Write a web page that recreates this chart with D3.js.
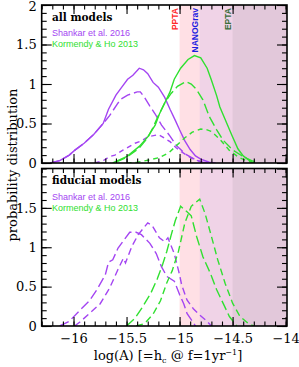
<!DOCTYPE html>
<html><head><meta charset="utf-8">
<script src="https://cdn.jsdelivr.net/npm/d3@7"></script>
<style>body{margin:0;background:#fff}svg{display:block}</style>
</head><body>
<svg id="c" width="299" height="367"></svg>
<script>
// ---------- data ----------
const xTickLabels = [-16, -15.5, -15, -14.5, -14];
const yTickLabelsTop = [0, 0.5, 1, 1.5, 2];
const yTickLabelsBottom = [0, 0.5, 1, 1.5];
const panelTitles = ["all models", "fiducial models"];
const legendNames = ["Shankar et al. 2016", "Kormendy & Ho 2013"];
const ptaNames = ["PPTA", "NANOGrav", "EPTA"];
const ptaLimits = [-15.0, -14.81, -14.5];

// top panel (all models)
const allShankarSolidX = [-16.22,-16.13,-16.04,-15.99,-15.90,-15.81,-15.72,-15.67,-15.60,-15.55,-15.49,-15.44,-15.38,-15.34,-15.30,-15.25,-15.20,-15.14,-15.09,-15.04,-15.00,-14.95,-14.90,-14.85,-14.80,-14.72,-14.66];
const allShankarSolidY = [0.00,0.03,0.10,0.16,0.25,0.36,0.50,0.68,0.86,0.95,1.06,1.11,1.20,1.18,1.13,1.02,0.96,0.83,0.68,0.54,0.42,0.28,0.17,0.09,0.05,0.01,0.00];
const allShankarLongX = [-16.22,-16.13,-16.04,-15.99,-15.90,-15.81,-15.72,-15.66,-15.58,-15.55,-15.49,-15.40,-15.37,-15.33,-15.28,-15.23,-15.17,-15.09,-15.03,-14.94,-14.85,-14.78,-14.72];
const allShankarLongY = [0.00,0.03,0.10,0.16,0.25,0.36,0.50,0.60,0.76,0.81,0.86,0.90,0.90,0.83,0.72,0.62,0.48,0.34,0.22,0.11,0.04,0.01,0.00];
const allShankarShortX = [-15.80,-15.72,-15.66,-15.61,-15.53,-15.42,-15.36,-15.30,-15.20,-15.15,-15.09,-15.03,-14.98,-14.90,-14.83,-14.77];
const allShankarShortY = [0.00,0.03,0.08,0.10,0.165,0.25,0.28,0.33,0.36,0.32,0.27,0.19,0.14,0.07,0.03,0.00];
const allKormendySolidX = [-15.63,-15.50,-15.38,-15.30,-15.23,-15.19,-15.14,-15.09,-15.05,-14.99,-14.92,-14.86,-14.80,-14.74,-14.70,-14.65,-14.62,-14.57,-14.51,-14.45,-14.40,-14.34,-14.30];
const allKormendySolidY = [0.00,0.08,0.21,0.33,0.48,0.62,0.76,0.90,1.06,1.20,1.31,1.36,1.33,1.20,1.05,0.85,0.71,0.55,0.36,0.18,0.09,0.03,0.00];
const allKormendyLongX = [-15.60,-15.50,-15.38,-15.30,-15.25,-15.20,-15.14,-15.08,-15.02,-14.94,-14.89,-14.84,-14.78,-14.72,-14.65,-14.59,-14.50,-14.40,-14.32,-14.25];
const allKormendyLongY = [0.01,0.07,0.19,0.32,0.45,0.60,0.76,0.88,0.97,1.03,1.00,0.93,0.80,0.59,0.42,0.29,0.165,0.08,0.03,0.00];
const allKormendyShortX = [-15.50,-15.40,-15.28,-15.19,-15.10,-15.03,-14.95,-14.88,-14.80,-14.74,-14.70,-14.62,-14.53,-14.44,-14.35,-14.30];
const allKormendyShortY = [0.00,0.01,0.04,0.07,0.13,0.22,0.32,0.39,0.43,0.42,0.40,0.30,0.16,0.07,0.02,0.00];

// bottom panel (fiducial models)
const fidShankarLongX = [-16.13,-16.04,-15.94,-15.85,-15.78,-15.70,-15.67,-15.63,-15.58,-15.53,-15.47,-15.41,-15.36,-15.28,-15.22,-15.17,-15.12,-15.05,-15.00,-14.96,-14.93,-14.89,-14.85];
const fidShankarLongY = [0.00,0.06,0.20,0.32,0.46,0.65,0.81,0.84,0.99,1.08,1.19,1.19,1.16,1.05,0.92,0.75,0.63,0.57,0.40,0.28,0.16,0.08,0.00];
const fidShankarShortX = [-15.99,-15.94,-15.85,-15.75,-15.66,-15.58,-15.53,-15.51,-15.45,-15.39,-15.30,-15.26,-15.19,-15.14,-15.11,-15.05,-15.00,-14.98,-14.93,-14.87,-14.81,-14.75,-14.70];
const fidShankarShortY = [0.00,0.05,0.16,0.28,0.48,0.72,0.86,0.80,1.01,1.16,1.31,1.28,1.12,1.07,1.12,0.92,0.65,0.52,0.33,0.22,0.14,0.07,0.00];
const fidKormendyLongX = [-15.50,-15.42,-15.35,-15.27,-15.21,-15.16,-15.12,-15.08,-15.04,-14.99,-14.93,-14.89,-14.84,-14.78,-14.71,-14.65,-14.59,-14.53,-14.46];
const fidKormendyLongY = [0.00,0.10,0.24,0.42,0.60,0.78,0.95,1.15,1.34,1.52,1.45,1.40,1.14,0.88,0.67,0.46,0.29,0.12,0.00];
const fidKormendyShortX = [-15.41,-15.33,-15.25,-15.18,-15.12,-15.07,-15.01,-14.95,-14.89,-14.81,-14.76,-14.70,-14.64,-14.57,-14.50,-14.43,-14.35,-14.30];
const fidKormendyShortY = [0.00,0.03,0.15,0.32,0.55,0.70,0.95,1.31,1.52,1.61,1.43,1.14,0.84,0.54,0.29,0.12,0.03,0.00];

// ---------- styles / layout ----------
const PURPLE = "#a445f2", GREEN = "#30e030";
const ptaColors = ["#ff2a2a", "#1f1fe0", "#3a6e3a"];
const ptaFills = [["#ffe0e5", 1], ["#5a5aff", 0.09], ["#707070", 0.10]];
const L = 41.7, R = 287;
const panels = [
  {top: 5, bottom: 163, yTicks: yTickLabelsTop, title: panelTitles[0],
   curves: [
     [allShankarSolidX, allShankarSolidY, PURPLE, null],
     [allShankarLongX, allShankarLongY, PURPLE, "10,4"],
     [allShankarShortX, allShankarShortY, PURPLE, "5,4"],
     [allKormendySolidX, allKormendySolidY, GREEN, null],
     [allKormendyLongX, allKormendyLongY, GREEN, "10,4"],
     [allKormendyShortX, allKormendyShortY, GREEN, "5,4"]
   ]},
  {top: 168.5, bottom: 326, yTicks: yTickLabelsBottom, title: panelTitles[1],
   curves: [
     [fidShankarLongX, fidShankarLongY, PURPLE, "10,4"],
     [fidShankarShortX, fidShankarShortY, PURPLE, "7,4"],
     [fidKormendyLongX, fidKormendyLongY, GREEN, "10,4"],
     [fidKormendyShortX, fidKormendyShortY, GREEN, "7,4"]
   ]}
];

const svg = d3.select("#c");
const defs = svg.append("defs");
const x = d3.scaleLinear().domain([-16.3, -13.987]).range([L, R]);

const minorX = d3.range(-16.3, -13.98, 0.1).map(v => Math.round(v * 10) / 10);
const fmt = v => (v < 0 ? "\u2212" : "") + Math.abs(v);

panels.forEach((p, pi) => {
  const y = d3.scaleLinear().domain([0, 2]).range([p.bottom, p.top]);
  const g = svg.append("g");
  const clipId = "clip" + pi;
  defs.append("clipPath").attr("id", clipId).append("rect")
    .attr("x", L).attr("y", p.top).attr("width", R - L).attr("height", p.bottom - p.top);

  ptaLimits.forEach((lim, i) => {
    g.append("rect").attr("x", x(lim)).attr("y", p.top)
      .attr("width", R - x(lim)).attr("height", p.bottom - p.top)
      .attr("fill", ptaFills[i][0]).attr("fill-opacity", ptaFills[i][1]);
  });

  const line = d3.line().x(d => x(d[0])).y(d => y(d[1]));
  const cg = g.append("g").attr("clip-path", `url(#${clipId})`);
  p.curves.forEach(([xs, ys, col, dash]) => {
    cg.append("path").datum(xs.map((v, i) => [v, ys[i]]))
      .attr("d", line).attr("fill", "none").attr("stroke", col)
      .attr("stroke-width", 1.4).attr("stroke-dasharray", dash);
  });

  const axStyle = sel => { sel.select(".domain").remove(); sel.selectAll("line").attr("stroke", "#000").attr("stroke-width", 1.1); };
  const xb = g.append("g").attr("transform", `translate(0,${p.bottom})`)
    .call(d3.axisBottom(x).tickValues(minorX).tickSize(-4.5).tickFormat(""));
  axStyle(xb);
  const xbM = g.append("g").attr("transform", `translate(0,${p.bottom})`)
    .call(d3.axisBottom(x).tickValues(xTickLabels).tickSize(-9).tickPadding(8)
      .tickFormat(pi === 1 ? fmt : ""));
  axStyle(xbM);
  const xt = g.append("g").attr("transform", `translate(0,${p.top})`)
    .call(d3.axisTop(x).tickValues(minorX).tickSize(-4.5).tickFormat(""));
  axStyle(xt);
  const xtM = g.append("g").attr("transform", `translate(0,${p.top})`)
    .call(d3.axisTop(x).tickValues(xTickLabels).tickSize(-9).tickFormat(""));
  axStyle(xtM);
  const minorY = d3.range(0, 2.001, 0.1).map(v => Math.round(v * 10) / 10);
  const yl = g.append("g").attr("transform", `translate(${L},0)`)
    .call(d3.axisLeft(y).tickValues(minorY).tickSize(-5).tickFormat(""));
  axStyle(yl);
  const ylM = g.append("g").attr("transform", `translate(${L},0)`)
    .call(d3.axisLeft(y).tickValues(p.yTicks).tickSize(-10).tickPadding(5).tickFormat(d => String(d)));
  axStyle(ylM);
  ylM.selectAll(".tick text").filter(d => d === 2).attr("dy", "0.42em");
  const yr = g.append("g").attr("transform", `translate(${R},0)`)
    .call(d3.axisRight(y).tickValues(minorY).tickSize(-5).tickFormat(""));
  axStyle(yr);
  const yrM = g.append("g").attr("transform", `translate(${R},0)`)
    .call(d3.axisRight(y).tickValues([0, 0.5, 1, 1.5, 2]).tickSize(-10).tickFormat(""));
  axStyle(yrM);
  g.selectAll("text").attr("font-family", "DejaVu Serif").attr("font-size", 13).attr("fill", "#000");

  g.append("rect").attr("x", L).attr("y", p.top).attr("width", R - L).attr("height", p.bottom - p.top)
    .attr("fill", "none").attr("stroke", "#000").attr("stroke-width", 1.6);

  g.append("text").attr("x", 52).attr("y", p.top + 15.5).text(p.title)
    .attr("font-family", "DejaVu Serif").attr("font-weight", "bold").attr("font-size", 10.5).attr("fill", "#000");
  [PURPLE, GREEN].forEach((c, i) => {
    g.append("text").attr("x", 52).attr("y", p.top + 31 + i * 11).text(legendNames[i])
      .attr("font-family", "Liberation Sans, Arial").attr("font-size", 9).attr("fill", c);
  });

  if (pi === 0) {
    ptaNames.forEach((n, i) => {
      const bx = x(ptaLimits[i]) - 1.5;
      g.append("text").attr("transform", `translate(${bx},${p.top + 3}) rotate(-90)`)
        .attr("text-anchor", "end").text(n)
        .attr("font-family", "Liberation Sans, Arial").attr("font-weight", "bold")
        .attr("font-size", 8.5).attr("fill", ptaColors[i]);
    });
  }
});

const xtt = svg.append("text").attr("x", 168).attr("y", 360).attr("text-anchor", "middle")
  .attr("font-family", "DejaVu Serif").attr("font-size", 13).attr("fill", "#000");
xtt.append("tspan").text("log(A) [=h");
xtt.append("tspan").attr("font-size", 8).attr("dy", 2.5).text("c");
xtt.append("tspan").attr("dy", -2.5).text(" @ f=1yr");
xtt.append("tspan").attr("font-size", 8).attr("dy", -5).text("\u22121");
xtt.append("tspan").attr("dy", 5).text("]");

svg.append("text").attr("transform", "translate(17,165) rotate(-90)").attr("text-anchor", "middle")
  .attr("font-family", "DejaVu Serif").attr("font-size", 13).attr("fill", "#000")
  .text("probability distribution");
</script>
</body></html>
